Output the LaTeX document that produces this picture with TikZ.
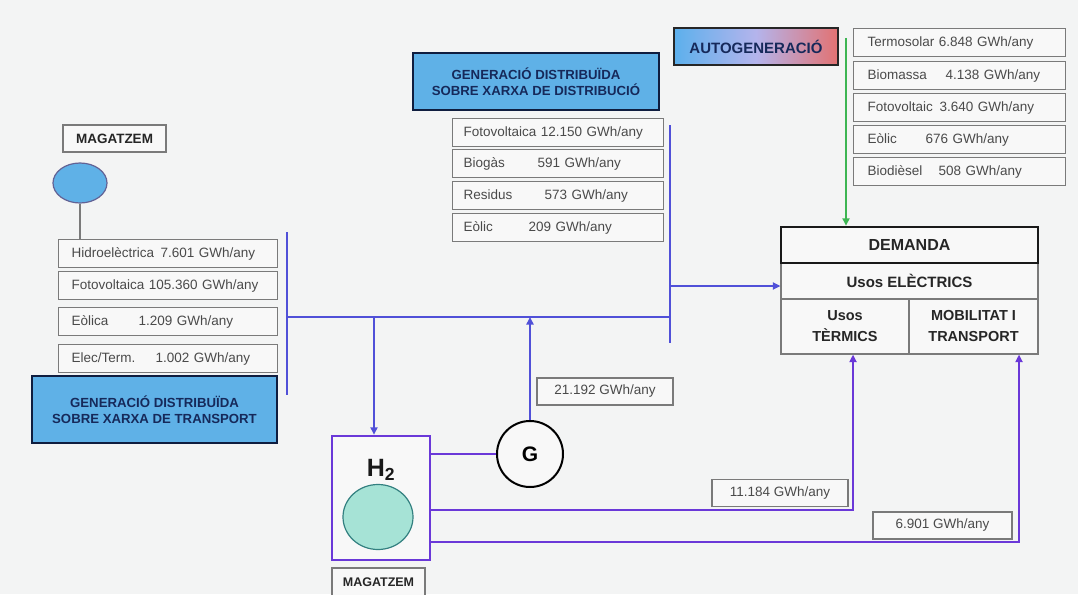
\documentclass[tikz,border=0pt]{standalone}
\usepackage{fontspec}
\setmainfont{Liberation Sans}
\usetikzlibrary{shapes.geometric,arrows.meta}
\definecolor{bg}{HTML}{F3F4F4}
\definecolor{boxfill}{HTML}{F8F8F8}
\definecolor{boxline}{HTML}{7A7A7A}
\definecolor{valtext}{HTML}{4A4A4A}
\definecolor{headfill}{HTML}{5FB1E7}
\definecolor{headtext}{HTML}{16295A}
\definecolor{busblue}{HTML}{5050D8}
\definecolor{violetline}{HTML}{6A38D8}
\definecolor{greenline}{HTML}{3DB552}
\definecolor{tealfill}{HTML}{A6E3D6}
\definecolor{autored}{HTML}{E27272}
\definecolor{autoblue}{HTML}{5CB0EC}
\definecolor{automid}{HTML}{B4B4EC}
\definecolor{darktext}{HTML}{262626}
\newcommand{\vbx}[3]{\makebox[#2pt][l]{#1}#3}
\tikzset{
  valbox/.style={draw=boxline, line width=1.2pt, fill=boxfill, text=valtext,
    font=\fontsize{13.5}{15}\selectfont, inner ysep=0pt, align=left,
    anchor=north west, minimum height=28pt},
  numbox/.style={draw=boxline, line width=1.2pt, fill=boxfill, text=valtext,
    font=\fontsize{13.5}{15}\selectfont, inner sep=0pt, minimum height=27pt},
  headbox/.style={draw=headtext!70!black, line width=2pt, fill=headfill, text=headtext,
    font=\fontsize{13.2}{16.5}\selectfont\bfseries, align=center, inner sep=0pt},
  magbox/.style={draw=boxline, line width=1.2pt, fill=boxfill, text=darktext,
    font=\fontsize{13.5}{15}\selectfont\bfseries, inner sep=0pt},
  dembox/.style={draw=boxline, line width=1.2pt, fill=boxfill, text=darktext,
    font=\fontsize{14.5}{21}\selectfont\bfseries, align=center, inner sep=0pt},
  bus/.style={draw=busblue, line width=2pt},
  vline/.style={draw=violetline, line width=2.5pt},
  tip/.style={-{Triangle[length=7.5pt,width=7pt]}},
}
\begin{document}
\begin{tikzpicture}[x=1pt,y=-1pt]
\fill[bg] (0,0) rectangle (1078,594);
\useasboundingbox (0,0) rectangle (1078,594);

% ---------- left: transport ----------
\node[magbox, minimum width=103pt, minimum height=27pt] (magA) at (114.5,138.5) {MAGATZEM};
\node[ellipse, draw=boxline!80!blue, line width=1.2pt, fill=headfill, minimum width=54pt, minimum height=40pt, inner sep=0pt] (ellA) at (80,183) {};
\node[valbox, inner xsep=13pt, text width=193pt] (t1) at (58,239) {\vbx{Hidroelèctrica}{89}{7.601 GWh/any}};
\node[valbox, inner xsep=13pt, text width=193pt] (t2) at (58,271) {Fotovoltaica 105.360 GWh/any};
\node[valbox, inner xsep=13pt, text width=193pt] (t3) at (58,307) {\vbx{Eòlica}{67}{1.209 GWh/any}};
\node[valbox, inner xsep=13pt, text width=193pt] (t4) at (58,344) {\vbx{Elec/Term.}{84}{1.002 GWh/any}};
\node[headbox, minimum width=245pt, minimum height=67pt] (hT) at (154.5,409.5) {GENERACIÓ DISTRIBUÏDA\\SOBRE XARXA DE TRANSPORT};
\draw[draw=boxline, line width=1.5pt] (ellA.south) -- (ellA.south |- t1.north);

% ---------- middle: distribucio ----------
\node[headbox, minimum width=246pt, minimum height=57pt] (hD) at (536,81.5) {GENERACIÓ DISTRIBUÏDA\\SOBRE XARXA DE DISTRIBUCIÓ};
\node[valbox, inner xsep=11pt, text width=189pt] (d1) at (452,118) {Fotovoltaica 12.150 GWh/any};
\node[valbox, inner xsep=11pt, text width=189pt] (d2) at (452,149) {\vbx{Biogàs}{74}{591 GWh/any}};
\node[valbox, inner xsep=11pt, text width=189pt] (d3) at (452,181) {\vbx{Residus}{81}{573 GWh/any}};
\node[valbox, inner xsep=11pt, text width=189pt] (d4) at (452,213) {\vbx{Eòlic}{65}{209 GWh/any}};

% ---------- right: autogeneracio ----------
\node[draw=black!85, line width=2pt, left color=autoblue, right color=autored, middle color=automid,
  minimum width=164pt, minimum height=37pt, inner sep=0pt, text=headtext,
  font=\fontsize{15}{17}\selectfont\bfseries] (auto) at (756,46.5) {AUTOGENERACIÓ};
\node[valbox, inner xsep=14pt, text width=184pt] (a1) at (853,28) {Termosolar 6.848 GWh/any};
\node[valbox, inner xsep=14pt, text width=184pt] (a2) at (853,61) {\vbx{Biomassa}{78}{4.138 GWh/any}};
\node[valbox, inner xsep=14pt, text width=184pt] (a3) at (853,93) {\vbx{Fotovoltaic}{72}{3.640 GWh/any}};
\node[valbox, inner xsep=14pt, text width=184pt] (a4) at (853,125) {\vbx{Eòlic}{58}{676 GWh/any}};
\node[valbox, inner xsep=14pt, text width=184pt] (a5) at (853,157) {\vbx{Biodièsel}{71}{508 GWh/any}};

% ---------- demand ----------
\node[dembox, minimum width=257pt, minimum height=36pt, font=\fontsize{15}{17}\selectfont\bfseries] (elec) at (909.5,281) {Usos ELÈCTRICS};
\node[dembox, minimum width=128pt, minimum height=55pt] (term) at (845,326.5) {Usos\\TÈRMICS};
\node[dembox, minimum width=129pt, minimum height=55pt] (mob) at (973.5,326.5) {MOBILITAT I\\TRANSPORT};
\node[dembox, draw=black!90, line width=2.5pt, minimum width=257pt, minimum height=36pt,
  font=\fontsize{16}{18}\selectfont\bfseries] (dem) at (909.5,245) {DEMANDA};

% ---------- storage H2 and generator ----------
\node[draw=violetline, line width=2.5pt, fill=boxfill, minimum width=98pt, minimum height=124pt, inner sep=0pt] (h2) at (381,498) {};
\node[text=black!90, font=\fontsize{25}{27}\selectfont\bfseries, inner sep=0pt] (h2t) at (381,470) {H\textsubscript{2}};
\node[ellipse, draw=teal!60!gray, line width=1.2pt, fill=tealfill, minimum width=70pt, minimum height=65pt, inner sep=0pt] (h2c) at (378,517) {};
\node[magbox, minimum width=93pt, minimum height=28pt, font=\fontsize{12.5}{14}\selectfont\bfseries] (magB) at (378.5,582) {MAGATZEM};
\node[circle, draw=black, line width=2pt, fill=boxfill, minimum size=66pt, inner sep=0pt,
  font=\fontsize{21}{23}\selectfont\bfseries] (gen) at (530,454) {G};

\node[numbox, minimum width=136pt] (n1) at (605,391.5) {21.192 GWh/any};
\node[numbox, minimum width=136pt] (n2) at (780,493) {11.184 GWh/any};
\node[numbox, minimum width=139pt] (n3) at (942.5,525.5) {6.901 GWh/any};

% ---------- buses and connectors ----------
\coordinate (lbT) at (287,232);
\coordinate (lbB) at (287,395);
\coordinate (hL) at (287,317);
\coordinate (hR) at (670,317);
\coordinate (rbT) at (670,125);
\coordinate (rbB) at (670,343);
\coordinate (tapE) at (670,286);
\coordinate (tapH) at (374,317);
\coordinate (tT) at (853,510);
\coordinate (tM) at (1019,542);
\coordinate (gTop) at (846,38);

\draw[bus] (lbT) -- (lbB);
\draw[bus] (hL) -- (hR);
\draw[bus] (rbT) -- (rbB);
\draw[bus, tip] (tapE) -- (tapE -| elec.west);
\draw[bus, tip] (tapH) -- (tapH |- h2.north);
\draw[bus, tip] (gen.north) -- (gen.north |- hL);
\draw[vline] (h2.east |- gen.west) -- (gen.west);
\draw[vline, tip] (h2.east |- tT) -- (tT) -- (tT |- term.south);
\draw[vline, tip] (h2.east |- tM) -- (tM) -- (tM |- mob.south);
\draw[draw=greenline, line width=2pt, tip] (gTop) -- (gTop |- dem.north);
\end{tikzpicture}
\end{document}
